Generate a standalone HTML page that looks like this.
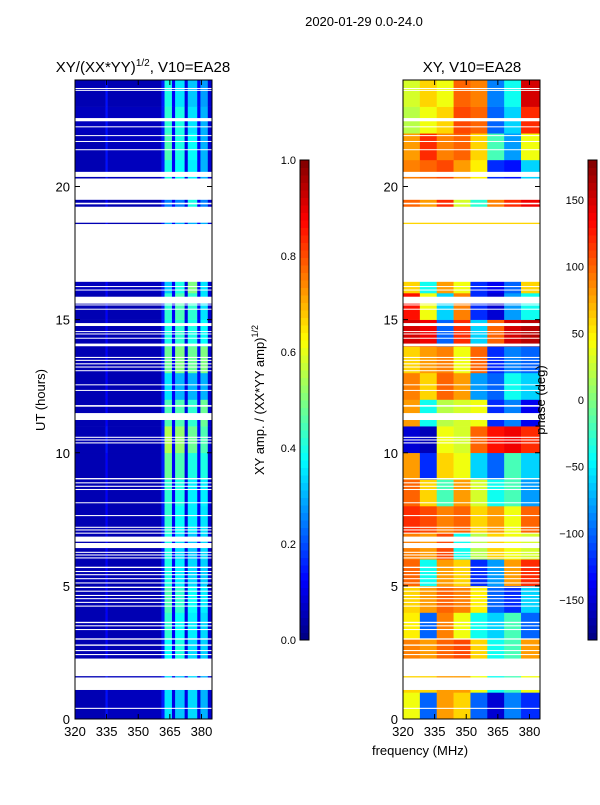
<!DOCTYPE html>
<html><head><meta charset="utf-8">
<style>
html,body{margin:0;padding:0;background:#fff;}
svg text{font-family:"Liberation Sans","DejaVu Sans",sans-serif;fill:#000;}
</style></head>
<body>
<svg id="fig" width="600" height="800" viewBox="0 0 600 800" xmlns="http://www.w3.org/2000/svg">
<text x="364" y="26" font-size="13" text-anchor="middle">2020-01-29 0.0-24.0</text>
<text x="143" y="72" font-size="15" text-anchor="middle">XY/(XX*YY)<tspan font-size="10" dy="-6">1/2</tspan><tspan dy="6">, V10=EA28</tspan></text>
<text x="472" y="72" font-size="15" text-anchor="middle">XY, V10=EA28</text>
<g id="ampPanel"></g>
<g id="phasePanel"></g>
<g id="axes"></g>
<text transform="translate(45,400) rotate(-90)" font-size="13" text-anchor="middle">UT (hours)</text>
<text x="420" y="755" font-size="13" text-anchor="middle">frequency (MHz)</text>
<text transform="translate(264,400) rotate(-90)" font-size="13" text-anchor="middle">XY amp. / (XX*YY amp)<tspan font-size="9" dy="-6">1/2</tspan></text>
<text transform="translate(545,400) rotate(-90)" font-size="13" text-anchor="middle">phase (deg)</text>
</svg>
<script>
// ---- data ----
const ampColEdges = [320,334.5,335.5,361,362.5,366,367.5,372,373.5,378,379.5,383,385];
// rows: hour 0..23
const ampValues = [
[0.05,0.14,0.06,0.15,0.35,0.10,0.32,0.10,0.34,0.10,0.30,0.08],
[0.05,0.14,0.06,0.15,0.35,0.10,0.32,0.10,0.34,0.10,0.30,0.08],
[0.05,0.12,0.05,0.15,0.38,0.12,0.40,0.10,0.34,0.12,0.33,0.08],
[0.05,0.12,0.05,0.15,0.42,0.12,0.38,0.10,0.36,0.12,0.34,0.08],
[0.05,0.12,0.05,0.15,0.45,0.12,0.42,0.10,0.38,0.12,0.36,0.08],
[0.05,0.12,0.05,0.15,0.40,0.12,0.36,0.10,0.34,0.12,0.33,0.08],
[0.05,0.12,0.05,0.15,0.40,0.12,0.34,0.10,0.32,0.12,0.34,0.08],
[0.05,0.12,0.05,0.15,0.42,0.12,0.38,0.10,0.36,0.12,0.35,0.08],
[0.05,0.12,0.05,0.15,0.42,0.12,0.40,0.10,0.36,0.12,0.36,0.08],
[0.05,0.12,0.05,0.15,0.48,0.12,0.45,0.10,0.40,0.12,0.40,0.08],
[0.05,0.14,0.05,0.15,0.55,0.12,0.52,0.10,0.48,0.12,0.45,0.08],
[0.05,0.12,0.05,0.15,0.45,0.12,0.45,0.10,0.42,0.12,0.48,0.08],
[0.05,0.12,0.05,0.15,0.35,0.12,0.30,0.10,0.30,0.12,0.30,0.08],
[0.05,0.12,0.05,0.15,0.48,0.12,0.50,0.10,0.48,0.12,0.50,0.08],
[0.05,0.12,0.05,0.15,0.40,0.12,0.42,0.10,0.40,0.12,0.38,0.08],
[0.05,0.12,0.05,0.15,0.42,0.12,0.45,0.10,0.42,0.12,0.35,0.08],
[0.06,0.12,0.06,0.15,0.32,0.12,0.40,0.10,0.50,0.12,0.35,0.08],
[0.05,0.12,0.05,0.15,0.30,0.12,0.30,0.10,0.30,0.12,0.30,0.08],
[0.05,0.12,0.05,0.15,0.30,0.12,0.30,0.10,0.30,0.12,0.30,0.08],
[0.05,0.12,0.05,0.15,0.25,0.12,0.25,0.10,0.40,0.12,0.25,0.08],
[0.05,0.14,0.06,0.15,0.40,0.12,0.38,0.10,0.36,0.12,0.30,0.08],
[0.05,0.14,0.06,0.15,0.45,0.12,0.40,0.10,0.38,0.12,0.30,0.08],
[0.06,0.14,0.06,0.15,0.42,0.12,0.40,0.10,0.35,0.12,0.30,0.08],
[0.05,0.14,0.05,0.15,0.40,0.12,0.35,0.10,0.32,0.12,0.28,0.08]
];
const phaseColEdges = [320,328,336,344,352,360,368,376,385];
const phaseValues = [
[40,-100,80,60,-100,-150,-90,-120],
[60,60,80,80,40,-40,-20,40],
[90,80,100,110,60,-40,-20,80],
[50,-100,90,40,-40,-60,-20,-100],
[60,80,100,90,50,-100,-120,-60],
[100,-40,80,60,-120,-80,80,120],
[90,80,110,-40,20,60,40,30],
[120,110,90,100,60,80,40,100],
[100,60,-20,80,30,-40,-20,-80],
[80,-120,60,40,-60,-100,-20,-60],
[-150,-160,40,30,100,130,140,120],
[80,-40,20,30,40,-120,-90,-140],
[90,60,100,80,-80,-100,-40,-60],
[60,80,90,40,100,-120,-90,-100],
[150,140,-100,120,-60,100,150,160],
[130,40,-60,90,-120,-150,-80,-40],
[60,-40,80,40,-120,-140,-100,60],
[60,60,60,60,60,60,60,60],
[60,60,60,60,60,60,60,60],
[100,80,120,30,-30,90,120,140],
[90,100,110,80,50,-120,-130,-60],
[80,120,90,100,60,-20,-80,40],
[20,40,60,110,100,-100,-60,120],
[30,60,40,100,90,-90,-40,150]
];
const gapIntervals = [
[0.38,0.42],[1.09,1.56],[1.61,2.27],[2.40,2.44],[2.55,2.59],[2.75,2.80],[2.98,3.03],
[3.34,3.38],[3.48,3.52],[3.60,3.65],[4.22,4.26],[4.36,4.40],[4.50,4.54],[4.62,4.66],[4.78,4.82],[4.92,4.97],
[5.09,5.13],[5.25,5.29],[5.40,5.44],[5.52,5.56],[5.67,5.72],[6.03,6.07],[6.14,6.18],[6.24,6.28],
[6.42,6.61],[6.66,6.85],[6.96,7.00],[7.08,7.12],[7.18,7.22],[7.62,7.66],[8.11,8.14],
[8.60,8.64],[8.72,8.76],[8.85,8.89],[9.00,9.05],[10.35,10.39],[10.46,10.50],[10.56,10.60],
[11.23,11.49],[11.73,11.79],[12.33,12.36],[12.54,12.57],[13.07,13.10],[13.20,13.24],[13.32,13.36],
[13.45,13.49],[13.56,13.60],[14.00,14.10],[14.29,14.32],[14.45,14.48],[14.54,14.57],[14.76,14.87],
[15.38,15.41],[15.54,15.57],[15.60,15.86],[16.10,16.13],[16.23,16.26],[16.42,18.59],[18.64,19.24],
[19.33,19.39],[19.50,20.30],[20.36,20.55],[21.37,21.40],[21.68,21.71],[21.90,21.93],[22.23,22.26],
[22.45,22.57],[23.60,23.63],[23.67,23.70]
];
const yTicks = [0,5,10,15,20];
const xTicks = [320,335,350,365,380];
const ampCbTicks = [0.0,0.2,0.4,0.6,0.8,1.0];
const phaseCbTicks = [-150,-100,-50,0,50,100,150];

// ---- helpers ----
const NS = "http://www.w3.org/2000/svg";
function jet(t){
  t=Math.max(0,Math.min(1,t));
  const r=Math.max(0,Math.min(1,1.5-Math.abs(4*t-3)));
  const g=Math.max(0,Math.min(1,1.5-Math.abs(4*t-2)));
  const b=Math.max(0,Math.min(1,1.5-Math.abs(4*t-1)));
  return `rgb(${Math.round(r*255)},${Math.round(g*255)},${Math.round(b*255)})`;
}
function mk(tag,attrs,parent){const e=document.createElementNS(NS,tag);for(const k in attrs)e.setAttribute(k,attrs[k]);parent.appendChild(e);return e;}
const yTop=80, yBot=719;
function yScale(h){return yBot-(h/24)*(yBot-yTop);}
function xScaleFor(x0,x1){return f=>x0+(f-320)/(385-320)*(x1-x0);}

function drawPanel(gid,x0,x1,edges,vals,norm){
  const g=document.getElementById(gid);
  const xs=xScaleFor(x0,x1);
  vals.forEach((row,h)=>{
    row.forEach((v,c)=>{
      const r=mk('rect',{x:xs(edges[c]),y:yScale(h+1),width:xs(edges[c+1])-xs(edges[c])+0.3,height:yScale(h)-yScale(h+1)+0.3,fill:jet(norm(v))},g);
      
      
    });
  });
  gapIntervals.forEach(gp=>{
    const r=mk('rect',{x:x0,y:yScale(gp[1]),width:x1-x0,height:Math.max(1,yScale(gp[0])-yScale(gp[1])),fill:'#fff'},g);
    
    
  });
}
drawPanel('ampPanel',75,212,ampColEdges,ampValues,v=>v);
drawPanel('phasePanel',403,540,phaseColEdges,phaseValues,v=>(v+180)/360);

const ax=document.getElementById('axes');
function frame(x0,x1,name){
  const f=mk('rect',{x:x0,y:yTop,width:x1-x0,height:yBot-yTop,fill:'none',stroke:'#000','stroke-width':1},ax);
  
  
  const xs=xScaleFor(x0,x1);
  yTicks.forEach(t=>{
    const y=yScale(t);
    mk('line',{x1:x0,y1:y,x2:x0+5,y2:y,stroke:'#000'},ax);
    mk('line',{x1:x1,y1:y,x2:x1-5,y2:y,stroke:'#000'},ax);
    const tx=mk('text',{x:x0-5,y:y+5,'font-size':13,'text-anchor':'end'},ax);
    tx.textContent=t;
    
    
  });
  xTicks.forEach(t=>{
    const x=xs(t);
    mk('line',{x1:x,y1:yBot,x2:x,y2:yBot-5,stroke:'#000'},ax);
    mk('line',{x1:x,y1:yTop,x2:x,y2:yTop+5,stroke:'#000'},ax);
    const tx=mk('text',{x:x,y:yBot+17,'font-size':13,'text-anchor':'middle'},ax);
    tx.textContent=t;
    
    
  });
}
frame(75,212,'amplitude-axes-frame');
frame(403,540,'phase-axes-frame');

function colorbar(x,ticks,lo,hi,name,fmt){
  const cy0=160, cy1=640, n=64;
  for(let i=0;i<n;i++){
    const r=mk('rect',{x:x,y:cy1-(i+1)*(cy1-cy0)/n,width:9,height:(cy1-cy0)/n+0.5,fill:jet((i+0.5)/n)},ax);
    
    
  }
  const f=mk('rect',{x:x,y:cy0,width:9,height:cy1-cy0,fill:'none',stroke:'#000'},ax);
  
  
  ticks.forEach(t=>{
    const y=cy1-(t-lo)/(hi-lo)*(cy1-cy0);
    const tx=mk('text',{x:x-4,y:y+4,'font-size':11,'text-anchor':'end'},ax);
    tx.textContent=fmt(t);
    
    
  });
}
colorbar(300,ampCbTicks,0,1,'amplitude-colorbar',t=>t.toFixed(1));
colorbar(588,phaseCbTicks,-180,180,'phase-colorbar',t=>t<0?'\u2212'+Math.abs(t):String(t));
</script>
</body></html>
